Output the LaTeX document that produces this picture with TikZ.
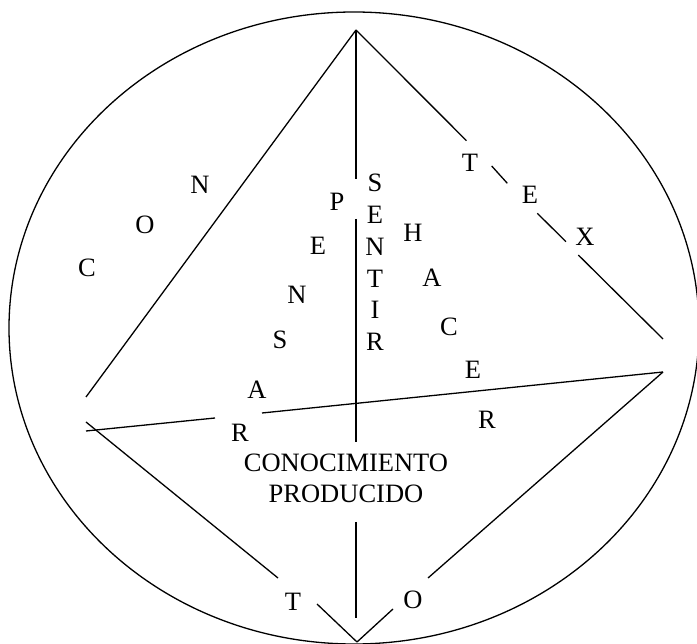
\documentclass[tikz,border=0pt]{standalone}
\usepackage{fontspec}
\setmainfont{Liberation Serif}
\usetikzlibrary{positioning}
\tikzset{
  letra/.style={font=\fontsize{26.5}{31}\selectfont, inner sep=0pt},
  trazo/.style={line width=1.3pt},
}
\begin{document}
\begin{tikzpicture}[x=1pt,y=-1pt]
  \useasboundingbox (0,0) rectangle (697,644);
  \draw[trazo] (354,328) ellipse [x radius=345, y radius=316];

  % vertices
  \coordinate (apice) at (356,30);
  \coordinate (izq) at (86,397);
  \coordinate (der) at (663,339);
  \coordinate (hizq) at (86,431);
  \coordinate (hder) at (663,372);
  \coordinate (bizq) at (86,422);
  \coordinate (abajo) at (357,642);

  % cortes de los trazos
  \coordinate (v1) at (356,179);
  \coordinate (v2) at (356,219);
  \coordinate (v3) at (356,442);
  \coordinate (v4) at (356,522);
  \coordinate (v5) at (356,618);
  \coordinate (t1) at (466.5,140.7);
  \coordinate (t2) at (491.7,166);
  \coordinate (e1) at (507.3,183.3);
  \coordinate (e2) at (537.3,213.3);
  \coordinate (x1) at (566,241.7);
  \coordinate (x2) at (578.3,255);
  \coordinate (h1) at (215,418);
  \coordinate (h2) at (262,413);
  \coordinate (li1) at (278,578);
  \coordinate (li2) at (317,604);
  \coordinate (ld1) at (428,578);
  \coordinate (ld2) at (393,609);

  \draw[trazo] (apice) -- (izq);
  \draw[trazo] (apice) -- (t1) (t2) -- (e1) (e2) -- (x1) (x2) -- (der);
  \draw[trazo] (apice) -- (v1) (v2) -- (v3) (v4) -- (v5);
  \draw[trazo] (hizq) -- (h1) (h2) -- (hder);
  \draw[trazo] (bizq) -- (li1) (li2) -- (abajo);
  \draw[trazo] (hder) -- (ld1) (ld2) -- (abajo);

  % CON
  \node[letra] (c1) at (87,268) {C};
  \node[letra] (c2) at (145,225) {O};
  \node[letra] (c3) at (200,185) {N};
  % TEXTO
  \node[letra] (tx1) at (470,163) {T};
  \node[letra] (tx2) at (530,195) {E};
  \node[letra] (tx3) at (585,237) {X};
  \node[letra] (tx4) at (293,602) {T};
  \node[letra] (tx5) at (413,600) {O};
  % PENSAR
  \node[letra] (p1) at (337,202) {P};
  \node[letra] (p2) at (318,246) {E};
  \node[letra] (p3) at (297,295) {N};
  \node[letra] (p4) at (280,340) {S};
  \node[letra] (p5) at (257,390) {A};
  \node[letra] (p6) at (240,433) {R};
  % SENTIR
  \node[letra] (s1) at (375,183) {S};
  \node[letra, below=14pt of s1] (s2) {E};
  \node[letra, below=14pt of s2] (s3) {N};
  \node[letra, below=14pt of s3] (s4) {T};
  \node[letra, below=14pt of s4] (s5) {I};
  \node[letra, below=14pt of s5] (s6) {R};
  % HACER
  \node[letra] (a1) at (413,233) {H};
  \node[letra] (a2) at (432,278) {A};
  \node[letra] (a3) at (449,327) {C};
  \node[letra] (a4) at (473,370) {E};
  \node[letra] (a5) at (487,420) {R};

  \node[letra, align=center] (conocimiento) at (346,478) {CONOCIMIENTO\\PRODUCIDO};
\end{tikzpicture}
\end{document}
